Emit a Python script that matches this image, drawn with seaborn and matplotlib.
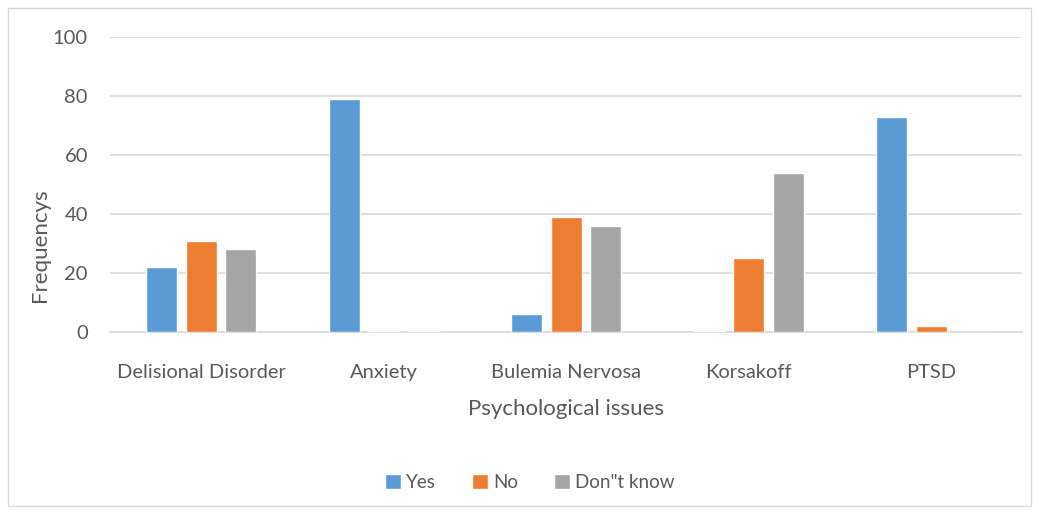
import numpy as np
import pandas as pd
import matplotlib.pyplot as plt
import seaborn as sns

issues = ["Delisional Disorder", "Anxiety", "Bulemia Nervosa", "Korsakoff", "PTSD"]
answers = ["Yes", "No", "Don\"t know"]
yes_vals = [22, 79, 6, 0.4, 73]
no_vals = [31, 0.4, 39, 25, 2]
dontknow_vals = [28, 0.4, 36, 54, 0]

colors = ["#5B9BD5", "#ED7D31", "#A5A5A5"]

df = pd.DataFrame({
    "issue": issues * 3,
    "answer": [answers[0]] * 5 + [answers[1]] * 5 + [answers[2]] * 5,
    "freq": yes_vals + no_vals + dontknow_vals,
})

sns.set_style("white")
plt.rcParams["font.family"] = ["Lato", "DejaVu Sans"]

fig = plt.figure(figsize=(10.39, 5.11), dpi=100)
ax = fig.add_axes([0.106, 0.350, 0.878, 0.578])

sns.barplot(data=df, x="issue", y="freq", hue="answer", order=issues,
            hue_order=answers, palette=colors, width=0.65, gap=0.22,
            saturation=1, ax=ax, zorder=3)

ax.set_ylim(0, 100)
ax.set_xlim(-0.5, 4.5)
ax.set_yticks(np.arange(0, 101, 20))
ax.yaxis.grid(True, color="#D9D9D9", linewidth=1.2, zorder=0)
ax.set_axisbelow(True)
for s in ["left", "right", "top"]:
    ax.spines[s].set_visible(False)
ax.spines["bottom"].set_color("#D9D9D9")
ax.spines["bottom"].set_linewidth(1.2)
ax.tick_params(axis="both", length=0, labelsize=14.5, labelcolor="#595959")
ax.tick_params(axis="x", pad=23)
ax.tick_params(axis="y", pad=16)

ax.set_xlabel("Psychological issues", fontsize=16, color="#595959", labelpad=13)
ax.set_ylabel("Frequencys", fontsize=16, color="#595959")
ax.yaxis.set_label_coords(-0.066, 0.295)

ax.legend(loc="center", bbox_to_anchor=(0.46, -0.51), ncol=3,
          frameon=False, fontsize=13.5, labelcolor="#595959",
          handlelength=0.85, handleheight=0.85, handletextpad=0.3,
          columnspacing=1.9)

fig.patches.append(plt.Rectangle((0.008, 0.01), 0.984, 0.975, transform=fig.transFigure,
                                 fill=False, edgecolor="#D9D9D9", linewidth=1))

fig.savefig("out.png", dpi=100, facecolor="white")
